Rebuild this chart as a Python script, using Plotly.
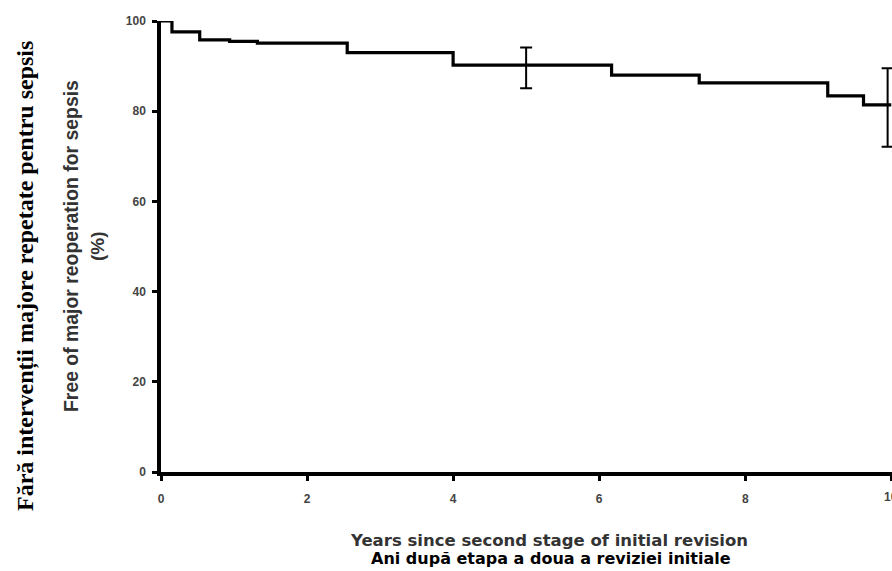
import plotly.graph_objects as go

# Kaplan-Meier step curve (years, % free of reoperation)
times = [0, 0.15, 0.53, 0.94, 1.32, 2.55, 4.0, 6.17, 7.37, 9.13, 9.62, 10.0]
survival = [100, 97.6, 95.8, 95.5, 95.1, 93.0, 90.2, 88.0, 86.3, 83.4, 81.4, 81.4]

# Confidence interval bars
eb_x = [5.0, 9.95]
eb_y = [90.2, 81.4]
eb_plus = [3.9, 8.1]
eb_minus = [5.1, 9.3]

x_ticks = [0, 2, 4, 6, 8, 10]
y_ticks = [0, 20, 40, 60, 80, 100]

title_y_en = "Free of major reoperation for sepsis"
title_y_en2 = "(%)"
title_y_ro = "Fără intervenții majore repetate pentru sepsis"
title_x_en = "Years since second stage of initial revision"
title_x_ro = "Ani după etapa a doua a reviziei initiale"

fig = go.Figure()
fig.add_trace(go.Scatter(
    x=times, y=survival, mode="lines", line_shape="hv",
    line=dict(color="black", width=3.2), cliponaxis=False, showlegend=False,
))
fig.add_trace(go.Scatter(
    x=eb_x, y=eb_y, mode="markers", marker=dict(size=1, color="black"),
    error_y=dict(type="data", symmetric=False, array=eb_plus, arrayminus=eb_minus,
                 color="black", thickness=2, width=6),
    cliponaxis=False, showlegend=False,
))

tickfont = dict(family="Liberation Sans", size=12, color="#444", weight="bold")
fig.update_xaxes(range=[0, 10.01], tickvals=x_ticks, ticks="outside", ticklen=5,
                 tickwidth=2.5, tickcolor="black", showline=True, linewidth=3.5,
                 linecolor="black", showgrid=False, zeroline=False, tickfont=tickfont,
                 ticklabelstandoff=8, automargin=False)
fig.update_yaxes(range=[0, 100], tickvals=y_ticks, ticks="outside", ticklen=5,
                 tickwidth=2.5, tickcolor="black", showline=True, linewidth=3.5,
                 linecolor="black", showgrid=False, zeroline=False, tickfont=tickfont,
                 ticklabelstandoff=4, automargin=False)

annots = [
    dict(x=25, y=276, text=title_y_ro, textangle=-90,
         font=dict(family="Liberation Serif", size=24, color="black", weight="bold")),
    dict(x=71, y=246, text=title_y_en, textangle=-90,
         font=dict(family="Liberation Sans", size=19.4, color="#333", weight="bold")),
    dict(x=97, y=246, text=title_y_en2, textangle=-90,
         font=dict(family="Liberation Sans", size=19, color="#333", weight="bold")),
    dict(x=549, y=540, text=title_x_en,
         font=dict(family="DejaVu Sans", size=16.5, color="#333", weight="bold")),
    dict(x=551, y=558, text=title_x_ro,
         font=dict(family="DejaVu Sans", size=16, color="black", weight="bold")),
]

# pixel positions -> paper coords relative to plot area
L, R, T, B = 161, 0, 21, 99
W, H = 892, 571
pw, ph = W - L - R, H - T - B
annotations = []
for a in annots:
    annotations.append(dict(
        x=(a["x"] - L) / pw, y=(H - B - a["y"]) / ph, xref="paper", yref="paper",
        xanchor="center", yanchor="middle", showarrow=False,
        text=a["text"], textangle=a.get("textangle", 0), font=a["font"],
    ))

# last x tick label sits on the page edge (half cut off like the reference)
annotations.append(dict(
    x=x_ticks[-1], y=(H - B - 497) / ph, xref="x", yref="paper",
    xanchor="center", yanchor="middle", showarrow=False,
    text=str(x_ticks[-1]), font=tickfont,
))

fig.update_layout(
    width=W, height=H,
    margin=dict(l=L, r=R, t=T, b=B),
    paper_bgcolor="white", plot_bgcolor="white",
    annotations=annotations,
)
fig.write_html(
    "out.html",
    config={"displayModeBar": False},
    post_script="document.body.style.margin='0px';document.body.style.overflow='hidden';",
)
